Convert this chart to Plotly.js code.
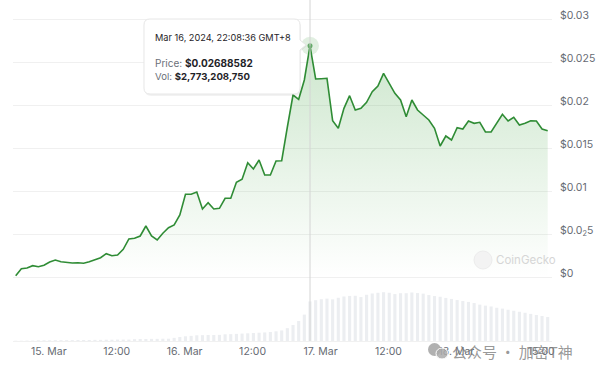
<!DOCTYPE html>
<html>
<head>
<meta charset="utf-8">
<script src="https://cdn.plot.ly/plotly-3.0.1.min.js"></script>
<style>html,body{margin:0;padding:0;background:#fff;}#chart{width:600px;height:374px;}</style>
</head>
<body>
<div id="chart"></div>
<script>
// ---- data (hourly samples, GMT+8) ----
const startTime = '2024-03-14 18:08:36';
const stepHours = 1;
const price = [
  0.000151, 0.000965, 0.001047, 0.001314, 0.001198, 0.001360, 0.001744, 0.001977, 0.001779, 0.001663,
  0.001628, 0.001663, 0.001593, 0.001779, 0.001977, 0.002244, 0.002709, 0.002477, 0.002558, 0.003221,
  0.004419, 0.004500, 0.004767, 0.005930, 0.004767, 0.004302, 0.005081, 0.005733, 0.006047, 0.007209,
  0.009616, 0.009616, 0.009884, 0.007907, 0.008640, 0.007907, 0.007988, 0.009151, 0.009151, 0.011012,
  0.011360, 0.013291, 0.012558, 0.013605, 0.011860, 0.011860, 0.013488, 0.013523, 0.017442, 0.021163,
  0.020663, 0.022907, 0.02688582, 0.023023, 0.023058, 0.023105, 0.018174, 0.017291, 0.019616, 0.021081,
  0.019419, 0.019616, 0.020314, 0.021547, 0.022209, 0.023686, 0.022523, 0.021360, 0.020581, 0.018640,
  0.020581, 0.019419, 0.018837, 0.018256, 0.017291, 0.015233, 0.016395, 0.015930, 0.017360, 0.017209,
  0.018140, 0.017872, 0.017988, 0.016860, 0.016860, 0.017872, 0.018919, 0.018140, 0.018570, 0.017674,
  0.017872, 0.018174, 0.018140, 0.017209, 0.017012
];
// 24h volume in billions of USD
const volumeB = [
  0.02, 0.02, 0.03, 0.03, 0.05, 0.05, 0.05, 0.06, 0.06, 0.06,
  0.06, 0.07, 0.07, 0.07, 0.08, 0.08, 0.09, 0.09, 0.10, 0.10,
  0.10, 0.13, 0.14, 0.14, 0.15, 0.15, 0.16, 0.16, 0.22, 0.28,
  0.33, 0.36, 0.40, 0.41, 0.42, 0.42, 0.43, 0.47, 0.48, 0.50,
  0.52, 0.54, 0.56, 0.58, 0.60, 0.63, 0.68, 0.74, 0.90, 1.12,
  1.40, 1.85, 2.77320875, 2.86, 2.93, 2.97, 2.92, 3.03, 3.12, 3.16,
  3.17, 3.08, 3.24, 3.33, 3.38, 3.42, 3.38, 3.29, 3.35, 3.35,
  3.40, 3.36, 3.32, 3.22, 3.15, 3.10, 3.02, 2.95, 2.87, 2.80,
  2.74, 2.66, 2.55, 2.48, 2.42, 2.33, 2.27, 2.19, 2.12, 2.05,
  1.98, 1.90, 1.82, 1.75, 1.68
];
const xTickVals = ['2024-03-15 00:00', '2024-03-15 12:00', '2024-03-16 00:00', '2024-03-16 12:00',
                   '2024-03-17 00:00', '2024-03-17 12:00', '2024-03-18 00:00', '2024-03-18 15:00'];
const xTickText = ['15. Mar', '12:00', '16. Mar', '12:00', '17. Mar', '12:00', '18. Mar', '15:00'];
const yTickVals = [0, 0.005, 0.01, 0.015, 0.02, 0.025, 0.03];
const yTickText = ['$0', '$0.0<sub>2</sub>5', '$0.01', '$0.015', '$0.02', '$0.025', '$0.03'];
const peakIndex = 52;

// ---- build time axis ----
function toStr(ms){ return new Date(ms).toISOString().slice(0,19).replace('T',' '); }
const t0 = Date.parse(startTime.replace(' ','T') + 'Z');
const times = price.map((_, i) => toStr(t0 + i * stepHours * 3600000));

// ---- pixel helpers for overlay decorations ----
const L = 13, R = 552, T = 0, B = 341;
const px = p => (p - L) / (R - L);
const py = p => (B - p) / (B - T);
function roundRectPath(x0, y0, x1, y1, r, arrow){
  const P = (x, y) => px(x).toFixed(5) + ',' + py(y).toFixed(5);
  let d = 'M' + P(x0 + r, y0) + ' L' + P(x1 - r, y0) + ' Q' + P(x1, y0) + ' ' + P(x1, y0 + r);
  if (arrow){ d += ' L' + P(x1, arrow.y - 5) + ' L' + P(x1 + 6, arrow.y) + ' L' + P(x1, arrow.y + 5); }
  d += ' L' + P(x1, y1 - r) + ' Q' + P(x1, y1) + ' ' + P(x1 - r, y1) +
       ' L' + P(x0 + r, y1) + ' Q' + P(x0, y1) + ' ' + P(x0, y1 - r) +
       ' L' + P(x0, y0 + r) + ' Q' + P(x0, y0) + ' ' + P(x0 + r, y0) + ' Z';
  return d;
}

// ---- tooltip text from data ----
const months = ['Jan','Feb','Mar','Apr','May','Jun','Jul','Aug','Sep','Oct','Nov','Dec'];
const pt = times[peakIndex];
const ptDate = new Date(pt.replace(' ','T') + 'Z');
const tipTitle = months[ptDate.getUTCMonth()] + ' ' + ptDate.getUTCDate() + ', ' + ptDate.getUTCFullYear() + ', ' + pt.slice(11) + ' GMT+8';
const tipPrice = '$' + price[peakIndex].toFixed(8);
const tipVol = '$' + Math.round(volumeB[peakIndex] * 1e9).toLocaleString('en-US');

const green = '#2f8c35';
const font = 'Inter, "Liberation Sans", Arial, sans-serif';

const traces = [
  {
    type: 'bar', x: times, y: volumeB, yaxis: 'y2',
    marker: {color: '#eceef1', line: {width: 0}},
    hoverinfo: 'skip'
  },
  {
    type: 'scatter', mode: 'lines', x: times, y: price,
    line: {color: green, width: 1.6},
    fill: 'tozeroy',
    fillgradient: {type: 'vertical', start: 0, stop: 0.027,
      colorscale: [[0, 'rgba(70,165,70,0.0)'], [1, 'rgba(70,165,70,0.27)']]},
    hoverinfo: 'skip'
  },
  {
    type: 'scatter', mode: 'markers', x: [pt, pt], y: [price[peakIndex], price[peakIndex]],
    marker: {size: [18, 5], color: ['rgba(60,150,60,0.22)', green], line: {width: 0}},
    hoverinfo: 'skip'
  }
];

const layout = {
  width: 600, height: 374,
  margin: {l: L, r: 600 - R, t: T, b: 374 - B},
  paper_bgcolor: '#ffffff', plot_bgcolor: '#ffffff',
  showlegend: false, hovermode: false, bargap: 0.45,
  font: {family: font, size: 10.5, color: '#666b73'},
  xaxis: {
    type: 'date', range: ['2024-03-14 17:40:00', '2024-03-18 16:54:11'],
    tickvals: xTickVals, ticktext: xTickText, tickmode: 'array',
    showgrid: false, zeroline: false, ticks: '',
    showline: true, linecolor: '#f1f1f1', linewidth: 1,
    tickfont: {family: font, size: 10.5, color: '#666b73'}, ticklabelstandoff: 0
  },
  yaxis: {
    side: 'right', range: [-0.007442, 0.032209], tickmode: 'array',
    tickvals: yTickVals, ticktext: yTickText,
    showgrid: true, gridcolor: '#f0f0f0', gridwidth: 1, zeroline: false, ticks: '',
    tickfont: {family: font, size: 10.5, color: '#666b73'},
    ticklabelstandoff: 7, ticklabelshift: -4
  },
  yaxis2: {overlaying: 'y', range: [0, 23.9], visible: false, fixedrange: true},
  shapes: [
    {type: 'line', xref: 'x', yref: 'paper', x0: pt, x1: pt, y0: 0, y1: 1,
     line: {color: '#d4d4d4', width: 1}, layer: 'above'},
    {type: 'path', xref: 'paper', yref: 'paper', path: roundRectPath(145, 21, 301, 96, 6, {y: 46}),
     fillcolor: 'rgba(0,0,0,0.05)', line: {width: 0}, layer: 'above'},
    {type: 'path', xref: 'paper', yref: 'paper', path: roundRectPath(144, 19, 300, 94, 6, {y: 45}),
     fillcolor: '#ffffff', line: {color: '#e6e6e6', width: 1}, layer: 'above'},
    {type: 'circle', xref: 'paper', yref: 'paper', x0: px(474), x1: px(492), y0: py(269), y1: py(251),
     fillcolor: '#f3f3f3', line: {color: '#ececec', width: 1}, layer: 'above'},
    {type: 'circle', xref: 'paper', yref: 'paper', x0: px(428), x1: px(441), y0: py(356), y1: py(343),
     fillcolor: 'rgba(150,150,150,0.75)', line: {width: 0}, layer: 'above'},
    {type: 'circle', xref: 'paper', yref: 'paper', x0: px(436), x1: px(448), y0: py(359), y1: py(348),
     fillcolor: 'rgba(170,170,170,0.85)', line: {color: '#ffffff', width: 1}, layer: 'above'}
  ],
  annotations: [
    {xref: 'paper', yref: 'paper', x: px(153), y: py(37), xanchor: 'left', yanchor: 'middle', showarrow: false,
     text: tipTitle, font: {family: font, size: 9.2, color: '#1f2328'}},
    {xref: 'paper', yref: 'paper', x: px(153), y: py(63), xanchor: 'left', yanchor: 'middle', showarrow: false,
     text: '<span style="color:#6b7079">Price:</span> <b>' + tipPrice + '</b>', font: {family: font, size: 10, color: '#1f2328'}},
    {xref: 'paper', yref: 'paper', x: px(153), y: py(76), xanchor: 'left', yanchor: 'middle', showarrow: false,
     text: '<span style="color:#6b7079">Vol:</span> <b>' + tipVol + '</b>', font: {family: font, size: 9.6, color: '#1f2328'}},
    {xref: 'paper', yref: 'paper', x: px(494), y: py(260), xanchor: 'left', yanchor: 'middle', showarrow: false,
     text: 'CoinGecko', font: {family: font, size: 11.5, color: '#d6d6d6'}},
    {xref: 'paper', yref: 'paper', x: px(450), y: py(351), xanchor: 'left', yanchor: 'middle', showarrow: false,
     text: '公众号 · 加密T神', font: {family: '"Noto Sans CJK SC", sans-serif', size: 15, color: 'rgba(125,125,125,0.8)'}}
  ]
};

Plotly.newPlot('chart', traces, layout, {displayModeBar: false, staticPlot: true});
</script>
</body>
</html>
